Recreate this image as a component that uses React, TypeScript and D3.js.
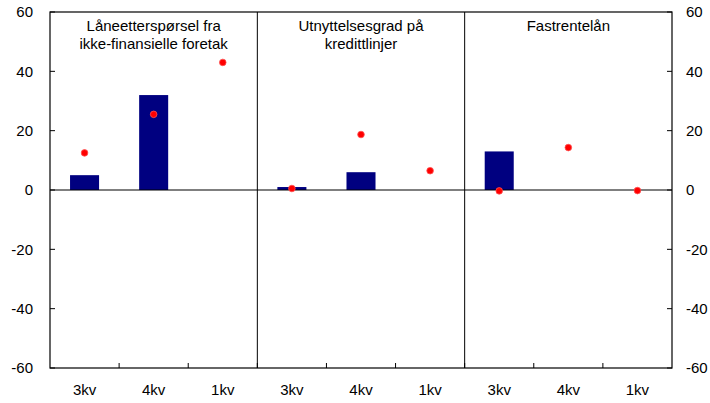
import React from "react";
import * as d3 from "d3";

const panels = ["Låneetterspørsel fra|ikke-finansielle foretak", "Utnyttelsesgrad på|kredittlinjer", "Fastrentelån"];
const quarters = ["3kv", "4kv", "1kv"];
const barValues = [
  [5, 32, null],
  [1, 6, null],
  [13, null, null],
];
const pointValues = [
  [12.5, 25.5, 43],
  [0.5, 18.7, 6.5],
  [-0.3, 14.3, -0.2],
];
const yTicks = [-60, -40, -20, 0, 20, 40, 60];

const W = 710, H = 403;
const L = 50, R = 672, T = 12, B = 368;
const font = "Liberation Sans, Arial, sans-serif";

export default function App() {
  const cats = d3.range(panels.length * quarters.length);
  const x = d3.scaleBand<number>().domain(cats).range([L, R]).padding(0);
  const y = d3.scaleLinear().domain([-60, 60]).range([B, T]);
  const bw = x.bandwidth() * 0.42;
  const panelW = (R - L) / panels.length;

  return (
    <svg width={W} height={H} style={{ position: "absolute", left: 0, top: 0 }} fontFamily={font}>
      <rect x={0} y={0} width={W} height={H} fill="#fff" />
      {/* bars */}
      {barValues.map((row, p) =>
        row.map((v, q) => {
          if (v === null) return null;
          const i = p * quarters.length + q;
          const cx = (x(i) as number) + x.bandwidth() / 2;
          return (
            <rect key={`b${p}${q}`} x={cx - bw / 2} y={Math.min(y(v), y(0))} width={bw}
              height={Math.abs(y(v) - y(0))} fill="#000080" />
          );
        })
      )}
      {/* zero line */}
      <line x1={L} x2={R} y1={y(0)} y2={y(0)} stroke="#000" strokeWidth={1.2} />
      {/* points */}
      {pointValues.map((row, p) =>
        row.map((v, q) => {
          const i = p * quarters.length + q;
          const cx = (x(i) as number) + x.bandwidth() / 2;
          return <circle key={`p${p}${q}`} cx={cx} cy={y(v)} r={3.3} fill="#ff0000" stroke="#ff5050" strokeWidth={0.8} />;
        })
      )}
      {/* frame */}
      <rect x={L} y={T} width={R - L} height={B - T} fill="none" stroke="#000" strokeWidth={1.2} />
      {/* panel dividers */}
      {d3.range(1, panels.length).map((k) => (
        <line key={`d${k}`} x1={L + k * panelW} x2={L + k * panelW} y1={T} y2={B} stroke="#000" strokeWidth={1} />
      ))}
      {/* x ticks */}
      {cats.slice(1).map((i) => (
        <line key={`xt${i}`} x1={x(i) as number} x2={x(i) as number} y1={B} y2={B - 5} stroke="#000" strokeWidth={1} />
      ))}
      {/* y ticks */}
      {yTicks.map((t) => (
        <g key={`yt${t}`}>
          <line x1={L} x2={L + 5} y1={y(t)} y2={y(t)} stroke="#000" strokeWidth={1} />
          <line x1={R} x2={R - 5} y1={y(t)} y2={y(t)} stroke="#000" strokeWidth={1} />
          <text x={33} y={y(t)} dy="0.35em" textAnchor="end" fontSize={15} fill="#000">{t}</text>
          <text x={686} y={y(t)} dy="0.35em" textAnchor="start" fontSize={15} fill="#000">{t}</text>
        </g>
      ))}
      {/* x labels */}
      {cats.map((i) => (
        <text key={`xl${i}`} x={(x(i) as number) + x.bandwidth() / 2} y={395} textAnchor="middle" fontSize={15} fill="#000">
          {quarters[i % quarters.length]}
        </text>
      ))}
      {/* panel titles */}
      {panels.map((pt, p) => (
        <text key={`t${p}`} x={L + (p + 0.5) * panelW} y={31} textAnchor="middle" fontSize={15} fill="#000">
          {pt.split("|").map((line, j) => (
            <tspan key={j} x={L + (p + 0.5) * panelW} dy={j === 0 ? 0 : 18}>{line}</tspan>
          ))}
        </text>
      ))}
    </svg>
  );
}
